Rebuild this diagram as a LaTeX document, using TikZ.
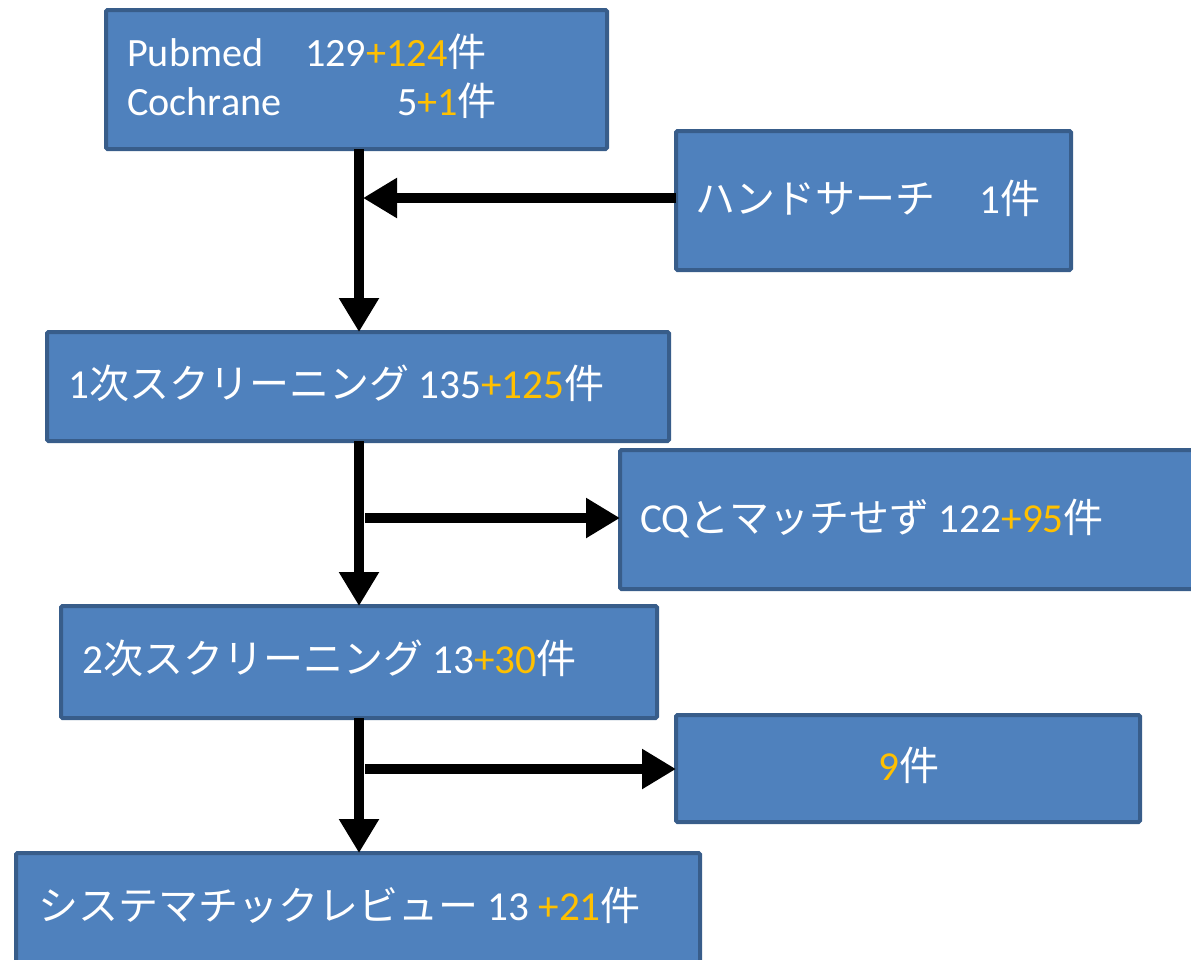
\documentclass[tikz,border=0pt]{standalone}
\usepackage{fontspec}
\setmainfont{Carlito}[Scale=1.03]
\newfontfamily\cjk{Noto Sans CJK JP}
\usetikzlibrary{arrows.meta}
\definecolor{boxfill}{HTML}{4F81BD}
\definecolor{boxline}{HTML}{385D8A}
\definecolor{yel}{HTML}{FFC000}
\newcommand{\jp}[1]{{\cjk #1}}
\newcommand{\yl}[1]{\textcolor{yel}{#1}}
\tikzset{
  flowbox/.style={draw=boxline, fill=boxfill, line width=4pt, rounded corners=1.5pt, rectangle, outer sep=0pt, inner sep=0pt},
  txt/.style={anchor=base west, inner sep=0pt, text=white, font=\fontsize{40}{48}\selectfont},
  flowarrow/.style={line width=10pt, -{Triangle[length=34pt,width=38pt]}},
  flowline/.style={line width=10pt}
}
\begin{document}
\begin{tikzpicture}[x=1pt,y=-1pt]
\useasboundingbox (0,0) rectangle (1191,959);
\clip (0,0) rectangle (1191,959);
% boxes
\node[flowbox, minimum width=501pt, minimum height=139pt] (a) at (356.5,79.5) {};
\node[flowbox, minimum width=395pt, minimum height=139pt] (b) at (873.5,200.5) {};
\node[flowbox, minimum width=622pt, minimum height=109pt] (c) at (358,386.5) {};
\node[flowbox, minimum width=600pt, minimum height=139pt] (d) at (920,519.5) {};
\node[flowbox, minimum width=596pt, minimum height=112pt] (e) at (359,662) {};
\node[flowbox, minimum width=464pt, minimum height=107pt] (f) at (908,768.5) {};
\node[flowbox, minimum width=684pt, minimum height=130pt] (g) at (358,918) {};
% texts
\node[txt, font=\fontsize{39}{46}\selectfont] (ta1) at (127,66) {Pubmed};
\node[txt, font=\fontsize{39}{46}\selectfont] (ta2) at (305,66) {129\yl{+124}\jp{件}};
\node[txt, font=\fontsize{39}{46}\selectfont] (ta3) at (127,115) {Cochrane};
\node[txt, font=\fontsize{39}{46}\selectfont] (ta4) at (397,115) {5\yl{+1}\jp{件}};
\node[txt] (tb) at (695,213) {\jp{ハンドサーチ}\hspace{44pt}1\jp{件}};
\node[txt] (tc) at (68,398) {1\jp{次スクリーニング} 135\yl{+125}\jp{件}};
\node[txt] (td) at (640,532) {CQ\jp{とマッチせず} 122\yl{+95}\jp{件}};
\node[txt] (te) at (82,673) {2\jp{次スクリーニング} 13\yl{+30}\jp{件}};
\node[txt] (tf) at (878,780) {\yl{9}\jp{件}};
\node[txt] (tg) at (38,920) {\jp{システマチックレビュー} 13 \yl{+21}\jp{件}};
% junctions
\coordinate (a1) at (359,149);
\coordinate (c1) at (359,332);
\coordinate (j1) at (363,198);
\coordinate (c2) at (359,441);
\coordinate (e1) at (359,606);
\coordinate (j2) at (365,518);
\coordinate (e2) at (359,718);
\coordinate (g1) at (359,853);
\coordinate (j3) at (365,769);
% connectors
\draw[flowarrow] (a1) -- (c1);
\draw[flowarrow] (b.west |- j1) -- (j1);
\draw[flowarrow] (c2) -- (e1);
\draw[flowarrow] (j2) -- (d.west |- j2);
\draw[flowarrow] (e2) -- (g1);
\draw[flowarrow] (j3) -- (f.west |- j3);
\end{tikzpicture}
\end{document}
